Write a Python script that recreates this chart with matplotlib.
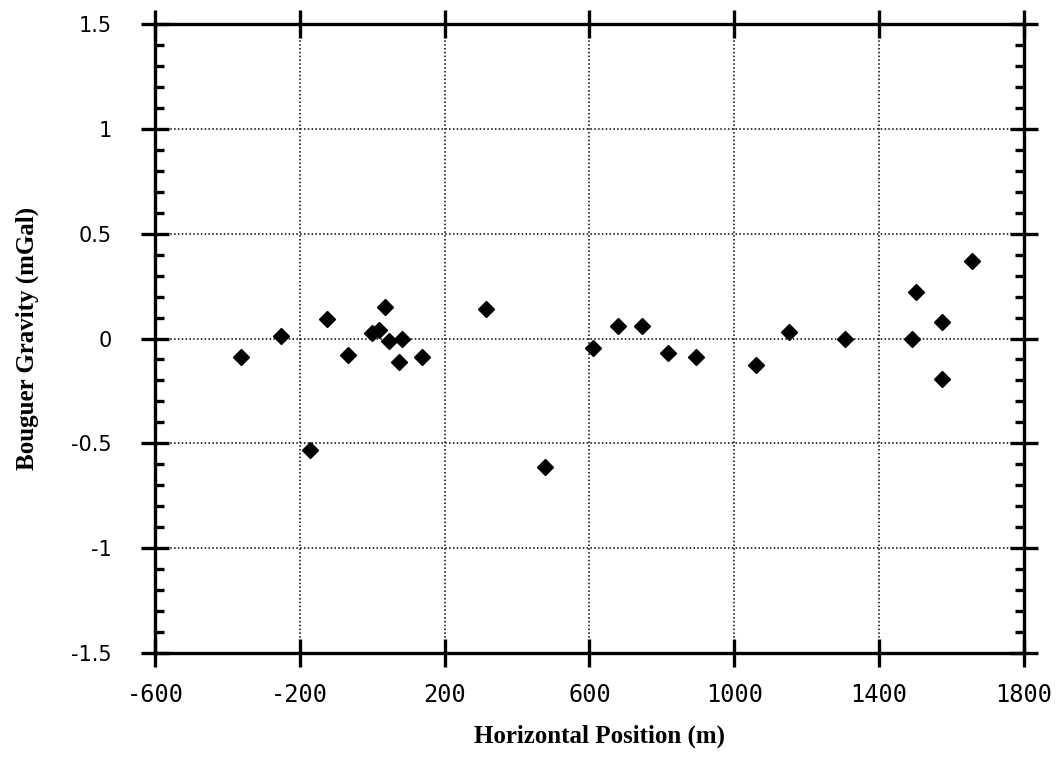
import matplotlib
matplotlib.use("Agg")
import matplotlib.pyplot as plt
from matplotlib.ticker import MultipleLocator

# Data
position_m = [-362, -251, -171, -126, -67, 0, 18, 36, 47, 74, 83, 139,
              315, 478, 611, 679, 746, 817, 894, 1060, 1152,
              1307, 1490, 1503, 1575, 1575, 1657]
gravity_mgal = [-0.09, 0.01, -0.53, 0.092, -0.08, 0.024, 0.043, 0.152, -0.011, -0.114, 0.0, -0.09,
                0.14, -0.614, -0.043, 0.06, 0.06, -0.071, -0.09, -0.125, 0.029,
                0.0, 0.0, 0.22, 0.079, -0.195, 0.37]

x_ticks = [-600, -200, 200, 600, 1000, 1400, 1800]
x_tick_labels = ["-600", "-200", "200", "600", "1000", "1400", "1800"]
y_ticks = [-1.5, -1, -0.5, 0, 0.5, 1, 1.5]
y_tick_labels = ["-1.5", "-1", "-0.5", "0", "0.5", "1", "1.5"]

fig = plt.figure(figsize=(10.61, 7.59), dpi=100)
ax = fig.add_axes([0.146, 0.140, 0.819, 0.828])

ax.plot(position_m, gravity_mgal, linestyle="none", marker="D",
        markersize=8.5, color="black", zorder=3)

ax.set_xlim(-600, 1800)
ax.set_ylim(-1.5, 1.5)
ax.set_xticks(x_ticks)
ax.set_xticklabels(x_tick_labels)
ax.set_yticks(y_ticks)
ax.set_yticklabels(y_tick_labels)
ax.yaxis.set_minor_locator(MultipleLocator(0.1))

ax.grid(True, which="major", linestyle=(0, (1, 1.5)), color="black", linewidth=1.1)

for s in ax.spines.values():
    s.set_linewidth(2.4)

ax.tick_params(axis="both", which="major", direction="inout", length=20, width=2.4,
               top=True, right=True)
ax.tick_params(axis="x", which="major", labelsize=17, pad=12)
ax.tick_params(axis="y", which="major", labelsize=15, pad=21)
ax.tick_params(axis="y", which="minor", direction="in", length=6.5, width=2.4,
               left=True, right=True)
for lab in ax.get_xticklabels():
    lab.set_fontfamily("DejaVu Sans Mono")
for lab in ax.get_yticklabels():
    lab.set_fontfamily("DejaVu Sans")

label_font = dict(family="Liberation Serif", weight="bold", size=18)
ax.set_xlabel("Horizontal Position (m)", **label_font)
ax.set_ylabel("Bouguer Gravity (mGal)", **label_font)
ax.xaxis.label.set_verticalalignment("center")
ax.xaxis.set_label_coords((600 - 155) / 869, -(737 - 653) / 629)
ax.yaxis.label.set_verticalalignment("center")
ax.yaxis.set_label_coords((27 - 155) / 869, 0.5)

fig.savefig("out.png", dpi=100)
